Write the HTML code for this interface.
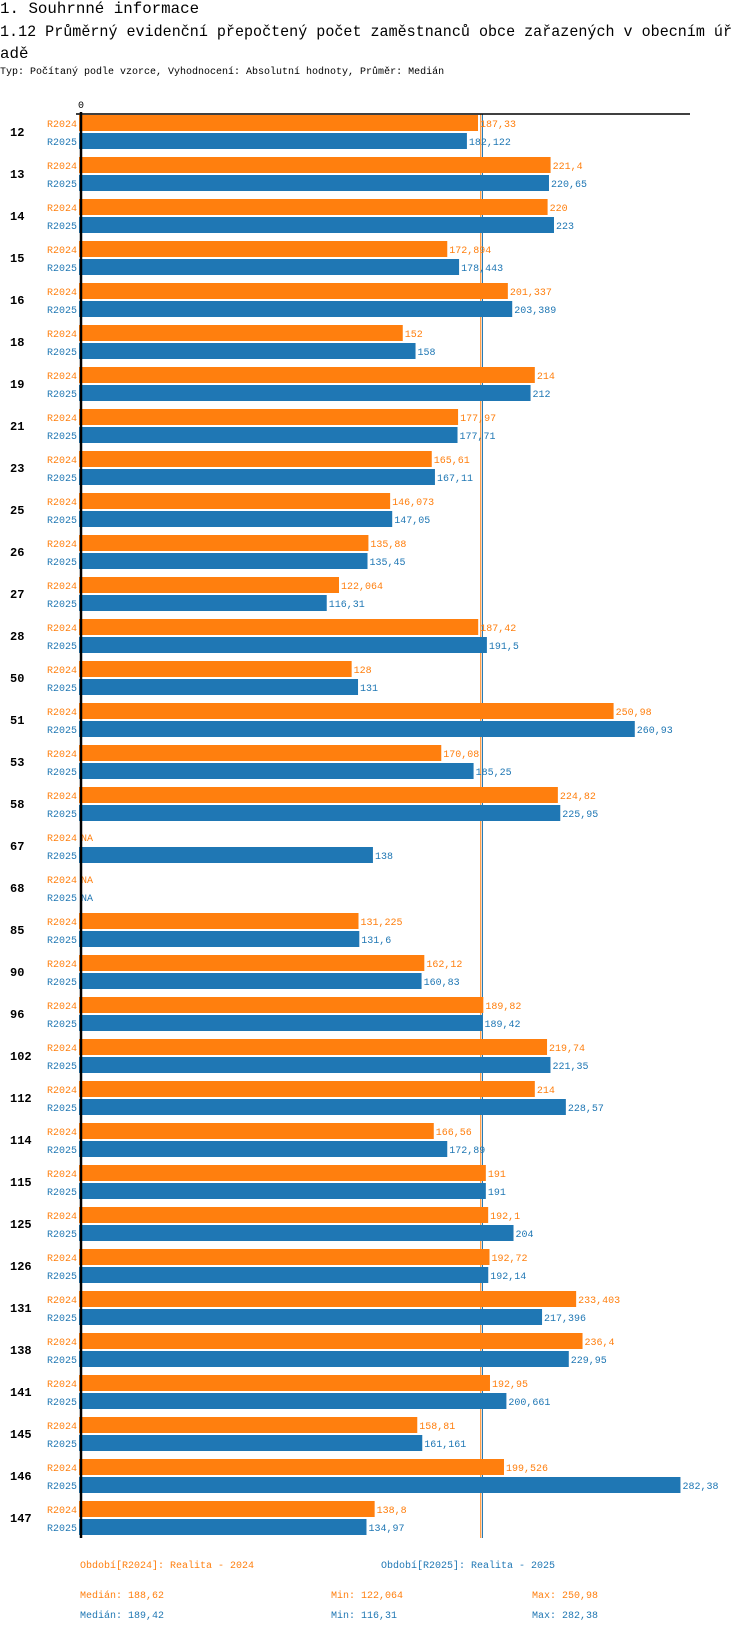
<!DOCTYPE html>
<html><head><meta charset="utf-8"><style>
body{margin:0;background:#fff;width:750px;height:1632px;overflow:hidden;font-family:"Liberation Mono",monospace}
.h{position:absolute;left:0;white-space:nowrap;color:#000}
</style></head><body>
<div class="h" style="top:0;font-size:15.8px;line-height:18px">1. Souhrnné informace</div>
<div class="h" id="t1" style="top:21px;font-size:15.8px;line-height:22px;transform-origin:0 0">1.12 Průměrný evidenční přepočtený počet zaměstnanců obce zařazených v obecním úř</div>
<div class="h" id="t2" style="top:43px;font-size:15.8px;line-height:22px">adě</div>
<div class="h" style="top:67px;font-size:10px">Typ: Počítaný podle vzorce, Vyhodnocení: Absolutní hodnoty, Průměr: Medián</div>
<svg id="c" width="750" height="1632" style="position:absolute;left:0;top:0" font-family="Liberation Mono, monospace"></svg>
<script>
(function(){const t=document.getElementById('t1');const w=t.getBoundingClientRect().width;if(w>0)t.style.transform='scaleX('+(732/w)+')';})();
const categories=["12","13","14","15","16","18","19","21","23","25","26","27","28","50","51","53","58","67","68","85","90","96","102","112","114","115","125","126","131","138","141","145","146","147"];
const r2024=[187.33,221.4,220,172.894,201.337,152,214,177.97,165.61,146.073,135.88,122.064,187.42,128,250.98,170.08,224.82,null,null,131.225,162.12,189.82,219.74,214,166.56,191,192.1,192.72,233.403,236.4,192.95,158.81,199.526,138.8];
const r2025=[182.122,220.65,223,178.443,203.389,158,212,177.71,167.11,147.05,135.45,116.31,191.5,131,260.93,185.25,225.95,138,null,131.6,160.83,189.42,221.35,228.57,172.89,191,204,192.14,217.396,229.95,200.661,161.161,282.38,134.97];
const labels2024=["187,33","221,4","220","172,894","201,337","152","214","177,97","165,61","146,073","135,88","122,064","187,42","128","250,98","170,08","224,82","NA","NA","131,225","162,12","189,82","219,74","214","166,56","191","192,1","192,72","233,403","236,4","192,95","158,81","199,526","138,8"];
const labels2025=["182,122","220,65","223","178,443","203,389","158","212","177,71","167,11","147,05","135,45","116,31","191,5","131","260,93","185,25","225,95","138","NA","131,6","160,83","189,42","221,35","228,57","172,89","191","204","192,14","217,396","229,95","200,661","161,161","282,38","134,97"];
const medians=[188.62,189.42];
const svg=document.getElementById('c');const NS='http://www.w3.org/2000/svg';
const C1='#ff7f0e',C2='#1f77b4';
const x=v=>79+v*2.13;
const yTop=i=>115+i*42;
function mk(t,a,txt){const e=document.createElementNS(NS,t);for(const k in a)e.setAttribute(k,a[k]);if(txt!=null)e.textContent=txt;svg.appendChild(e);return e;}
const yEnd=yTop(categories.length-1)+37;
let e;
e=mk('line',{x1:x(medians[0]),x2:x(medians[0]),y1:114,y2:yEnd,stroke:C1,'stroke-width':1});

e=mk('line',{x1:x(medians[1]),x2:x(medians[1]),y1:114,y2:yEnd,stroke:C2,'stroke-width':1});

categories.forEach((c,i)=>{
 const y=yTop(i);
 e=mk('text',{x:10,y:y+21,'font-size':12,'font-weight':'bold',fill:'#000'},c);
 
 [[r2024,labels2024,C1,'R2024',0],[r2025,labels2025,C2,'R2025',18]].forEach(([arr,lab,col,nm,off])=>{
  const yy=y+off;
  e=mk('text',{x:77,y:yy+12,'font-size':10,fill:col,'text-anchor':'end'},nm);
  
  const v=arr[i];let xe=x(0);
  if(v!=null){e=mk('rect',{x:x(0),y:yy,width:x(v)-x(0),height:16,fill:col});
   xe=x(v);}
  e=mk('text',{x:xe+2,y:yy+12,'font-size':10,fill:col},lab[i]);
  
 });
});
e=mk('line',{x1:76,x2:690,y1:114,y2:114,stroke:'#000','stroke-width':1.5});

e=mk('line',{x1:81,x2:81,y1:112,y2:yEnd,stroke:'#000','stroke-width':2.5});

e=mk('text',{x:81,y:108,'font-size':10,'text-anchor':'middle',fill:'#000'},'0');

const leg=[[80,1568,C1,'Období[R2024]: Realita - 2024','legend-r2024'],[381,1568,C2,'Období[R2025]: Realita - 2025','legend-r2025'],
[80,1598,C1,'Medián: 188,62','median-r2024'],[331,1598,C1,'Min: 122,064','min-r2024'],[532,1598,C1,'Max: 250,98','max-r2024'],
[80,1618,C2,'Medián: 189,42','median-r2025'],[331,1618,C2,'Min: 116,31','min-r2025'],[532,1618,C2,'Max: 282,38','max-r2025']];
leg.forEach(([lx,ly,col,t,n])=>{e=mk('text',{x:lx,y:ly,'font-size':10,fill:col},t);
 });
</script>
</body></html>
